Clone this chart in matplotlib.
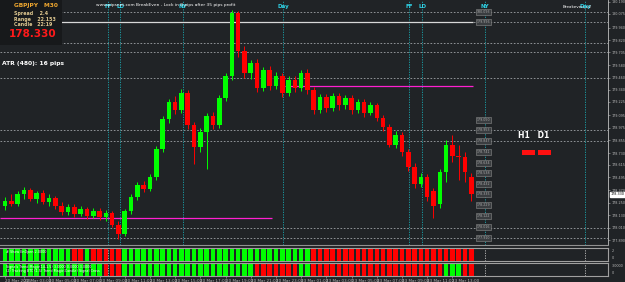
import matplotlib
matplotlib.use('Agg')
import matplotlib.pyplot as plt

# GBPJPY M30 candles, 20 Mar 2015 -> 23 Mar 2015
opens = [178.22, 178.27, 178.24, 178.33, 178.37, 178.29, 178.34, 178.26, 178.30, 178.22,
         178.16, 178.21, 178.14, 178.19, 178.12, 178.17, 178.11, 178.15, 178.04, 177.95,
         178.17, 178.31, 178.42, 178.38, 178.50, 178.77, 179.06, 179.22, 179.15, 179.31,
         179.00, 178.79, 178.93, 179.09, 179.00, 179.26, 179.47, 180.08, 179.72, 179.50,
         179.60, 179.36, 179.53, 179.38, 179.47, 179.31, 179.44, 179.36, 179.50, 179.34,
         179.15, 179.27, 179.17, 179.28, 179.19, 179.26, 179.15, 179.22, 179.12, 179.19,
         179.07, 178.98, 178.81, 178.90, 178.74, 178.60, 178.43, 178.50, 178.36, 178.24,
         178.55, 178.81, 178.70, 178.69, 178.50]
highs = [178.31, 178.33, 178.36, 178.40, 178.39, 178.36, 178.37, 178.33, 178.32, 178.26,
         178.24, 178.24, 178.22, 178.21, 178.20, 178.20, 178.18, 178.17, 178.07, 178.19,
         178.33, 178.45, 178.46, 178.53, 178.80, 179.09, 179.25, 179.28, 179.35, 179.34,
         179.03, 178.97, 179.12, 179.13, 179.29, 179.50, 180.11, 180.10, 179.76, 179.63,
         179.64, 179.56, 179.57, 179.51, 179.50, 179.47, 179.47, 179.53, 179.54, 179.37,
         179.30, 179.30, 179.31, 179.31, 179.29, 179.29, 179.25, 179.25, 179.22, 179.21,
         179.10, 179.01, 178.94, 178.93, 178.77, 178.63, 178.54, 178.53, 178.39, 178.58,
         178.86, 178.90, 178.81, 178.74, 178.54]
lows = [178.18, 178.22, 178.22, 178.29, 178.27, 178.25, 178.24, 178.22, 178.19, 178.13,
        178.13, 178.11, 178.12, 178.09, 178.10, 178.08, 178.07, 178.02, 177.90, 177.93,
        178.14, 178.28, 178.35, 178.36, 178.47, 178.74, 179.02, 179.11, 179.12, 178.96,
        178.62, 178.74, 178.58, 178.96, 178.97, 179.23, 179.44, 179.66, 179.46, 179.45,
        179.32, 179.33, 179.34, 179.35, 179.27, 179.28, 179.32, 179.33, 179.30, 179.11,
        179.12, 179.13, 179.14, 179.15, 179.16, 179.11, 179.12, 179.08, 179.10, 179.04,
        178.94, 178.79, 178.78, 178.70, 178.56, 178.39, 178.40, 178.27, 178.10, 178.20,
        178.45, 178.64, 178.47, 178.45, 178.27]
closes = [178.27, 178.24, 178.33, 178.37, 178.29, 178.34, 178.26, 178.30, 178.22, 178.16,
          178.21, 178.14, 178.19, 178.12, 178.17, 178.11, 178.15, 178.04, 177.95, 178.17,
          178.31, 178.42, 178.38, 178.50, 178.77, 179.06, 179.22, 179.15, 179.31, 179.00,
          178.79, 178.93, 179.09, 179.00, 179.26, 179.47, 180.08, 179.72, 179.50, 179.60,
          179.36, 179.53, 179.38, 179.47, 179.31, 179.44, 179.36, 179.50, 179.34, 179.15,
          179.27, 179.17, 179.28, 179.19, 179.26, 179.15, 179.22, 179.12, 179.19, 179.07,
          178.98, 178.81, 178.90, 178.74, 178.60, 178.43, 178.50, 178.31, 178.22, 178.55,
          178.81, 178.70, 178.69, 178.55, 178.33]
last_price = 178.330

# indicator sub-windows, one letter per candle (G = up, R = down)
panel1_signal = ("GGGGGGGGGGG" "RRG" "RRRRR"
                 "GGGGGGGGGG" "GGGGGGGGGG" "GGGGGGGGGG"
                 "RRRRRRRRRR" "RRRRRRRRRR" "RRRRRR")
panel2_signal = ("GGGGGGGGGGGGGGGG" "RRR"
                 "GGGGGGGGGGGGGGGGGGGGG" "RRRRRRR" "GG"
                 "RRRRRRRRRRRRRRRRRRRRR" "GGG" "RR")

price_ticks = [180.190, 180.075, 179.940, 179.820, 179.705, 179.580, 179.460, 179.340,
               179.225, 179.095, 178.975, 178.855, 178.730, 178.615, 178.495, 178.370,
               178.250, 178.130, 178.010, 177.890]
time_tick_bars = [0, 3, 7, 11, 15, 19, 23, 27, 31, 35, 39, 43, 47, 51, 55, 59, 63, 67, 71]
time_tick_labels = ['20 Mar 2015', '20 Mar 03:00', '20 Mar 05:00', '20 Mar 07:00',
                    '20 Mar 09:00', '20 Mar 11:00', '20 Mar 13:00', '20 Mar 15:00',
                    '20 Mar 17:00', '20 Mar 19:00', '20 Mar 21:00', '20 Mar 23:00',
                    '23 Mar 01:00', '23 Mar 03:00', '23 Mar 05:00', '23 Mar 07:00',
                    '23 Mar 09:00', '23 Mar 11:00', '23 Mar 13:00']

# session markers
session_bars = [16.35, 18.25, 28.25, 44.1, 64.1, 66.2, 76.2, 92.1]
session_names = ['FF', 'LD', 'NY', 'Day', 'FF', 'LD', 'NY', 'Day']

range_line = (179.996, 8.7, 74.3)
magenta_lines = [(179.378, 44.5, 74.3), (178.103, -0.8, 42.3)]
dotted_levels = [180.093, 179.996, 179.794, 179.707, 179.456, 178.953, 178.847, 178.006, 177.910]
pivot_labels = [180.093, 179.996, 179.050, 178.953, 178.847, 178.741, 178.634, 178.538,
                178.432, 178.335, 178.229, 178.122, 178.016, 177.910]

BG = '#202326'
UP = '#00ff00'
DOWN = '#ff0000'
TXT = '#b8b8b8'
W, H = 625, 282


def fy(py):
    return 1 - py / H


fig = plt.figure(figsize=(6.25, 2.82), dpi=100)
fig.patch.set_facecolor(BG)

ax = fig.add_axes([0, fy(245), 608 / W, 245 / H])
ax1 = fig.add_axes([0, fy(261), 608 / W, 13 / H], sharex=ax)
ax2 = fig.add_axes([0, fy(276), 608 / W, 13 / H], sharex=ax)

xs = list(range(len(closes)))
colors = [UP if c >= o else DOWN for o, c in zip(opens, closes)]

# levels
for lvl in dotted_levels:
    ax.axhline(lvl, color='#a0a4a8', lw=0.6, ls=(0, (2, 2)), zorder=1)
ax.hlines(range_line[0], range_line[1], range_line[2], color='#d8d8d8', lw=0.9, zorder=2)
for lvl, x0, x1 in magenta_lines:
    ax.hlines(lvl, x0, x1, color='#ff20d0', lw=0.9, zorder=2)

# session lines
for b, name in zip(session_bars, session_names):
    for a in (ax, ax1, ax2):
        a.axvline(b, color='#1aa7b0' if a is ax else '#c0c0c0', lw=0.6, ls=(0, (1.5, 1.5)), zorder=1)
    ax.text(b, 180.15, name, color='#2fd2e6', fontsize=4, fontweight='bold',
            ha='center', va='center', zorder=5)

# candles
ax.vlines(xs, lows, highs, color=colors, lw=0.7, zorder=3)
ax.bar(xs, [max(abs(c - o), 0.005) for o, c in zip(opens, closes)],
       bottom=[min(o, c) for o, c in zip(opens, closes)],
       width=0.72, color=colors, zorder=4)

# pivot price boxes
for p in pivot_labels:
    ax.text(76.0, p, f'{p:.3f}', fontsize=2.3, color='#a8a8a8', ha='center', va='center',
            bbox=dict(boxstyle='square,pad=0.25', fc='#3a3d40', ec='#8a8a8a', lw=0.4), zorder=5)

ax.set_xlim(-0.8, 95.7)
ax.set_ylim(177.842, 180.209)
ax.set_facecolor(BG)
ax.yaxis.tick_right()
ax.set_yticks(price_ticks)
ax.set_yticklabels([f'{p:.3f}' for p in price_ticks])
ax.tick_params(axis='y', colors=TXT, labelsize=2.4, length=1.5, width=0.4, pad=0.8)
ax.tick_params(axis='x', bottom=False, labelbottom=False)
for s in ax.spines.values():
    s.set_visible(False)
ax.spines['right'].set_visible(True)
ax.spines['right'].set_color('#c0c0c0')
ax.spines['right'].set_linewidth(0.6)
ax.spines['bottom'].set_visible(True)
ax.spines['bottom'].set_color('#909090')
ax.spines['bottom'].set_linewidth(0.8)

ax.text(1.004, last_price, f'{last_price:.3f}', transform=ax.get_yaxis_transform(),
        fontsize=2.4, color='black', va='center', ha='left', clip_on=False,
        bbox=dict(boxstyle='square,pad=0.25', fc='white', ec='white'), zorder=6)

# indicator panels
for a, sig in ((ax1, panel1_signal), (ax2, panel2_signal)):
    a.bar(xs, [1] * len(xs), width=0.72,
          color=[UP if ch == 'G' else DOWN for ch in sig], zorder=2)
    a.set_ylim(0, 1)
    a.set_facecolor(BG)
    a.set_yticks([])
    for s in a.spines.values():
        s.set_color('#a0a0a0')
        s.set_linewidth(0.8)
    a.spines['left'].set_visible(False)

ax1.tick_params(axis='x', bottom=False, labelbottom=False)
ax2.set_xticks(time_tick_bars)
ax2.set_xticklabels(time_tick_labels)
ax2.tick_params(axis='x', colors=TXT, labelsize=3.0, length=1.5, width=0.4, pad=0.5)
plt.setp(ax2.get_xticklabels(), ha='left')

ax1.text(0.2, 0.72, '# Show EnOpen 2.0000', fontsize=2.4, color='white', va='center', zorder=5)
ax2.text(0.2, 0.72, 'Signals Trend Magic(14,1.5) 3.0000 0.0000 3.0000', fontsize=2.4,
         color='white', va='center', zorder=5)
ax2.text(0.2, 0.35, '(2) Tracking BTC (1.5) Trend Magic(Candle) Signal Cross', fontsize=2.4,
         color='white', va='center', zorder=5)
for a, top in ((ax1, '2'), (ax2, '3.0000')):
    a.text(1.006, 0.8, top, transform=a.transAxes, fontsize=2.4, color=TXT, va='center')
    a.text(1.006, 0.2, '0', transform=a.transAxes, fontsize=2.4, color=TXT, va='center')

# info box, upper left
fig.patches.append(plt.Rectangle((0, fy(45)), 62 / W, 45 / H, transform=fig.transFigure,
                                 fc='#17191b', ec='none', zorder=0))
fig.text(14 / W, fy(6), 'GBPJPY   M30', fontsize=4.2, color='#f0a830', fontweight='bold', va='center')
fig.text(14 / W, fy(13), 'Spread    2.4', fontsize=3.4, color='#e0c890', fontweight='bold', va='center')
fig.text(14 / W, fy(19), 'Range    22.153', fontsize=3.4, color='#e0c890', fontweight='bold', va='center')
fig.text(14 / W, fy(25), 'Candle   22:19', fontsize=3.4, color='#e0c890', fontweight='bold', va='center')
fig.text(9 / W, fy(34), '178.330', fontsize=7.5, color='#ff1a1a', fontweight='bold', va='center')

fig.text(2 / W, fy(64), 'ATR (480): 16 pips', fontsize=4.3, color='white', fontweight='bold', va='center')
fig.text(96 / W, fy(5), 'www.pipsnet.com BreakEven - Lock in 8 pips after 35 pips profit',
         fontsize=3.2, color='white', va='center')
fig.text(563 / W, fy(6), 'Breakeven_v2', fontsize=3, color='white', va='center')

fig.text(518 / W, fy(135), 'H1   D1', fontsize=5.5, color='white', fontweight='bold', va='center')
for x0 in (522, 538):
    fig.patches.append(plt.Rectangle((x0 / W, fy(155)), 13 / W, 5 / H, transform=fig.transFigure,
                                     fc='#ff1010', ec='none', zorder=5))

fig.savefig('out.png', dpi=100, facecolor=BG)
